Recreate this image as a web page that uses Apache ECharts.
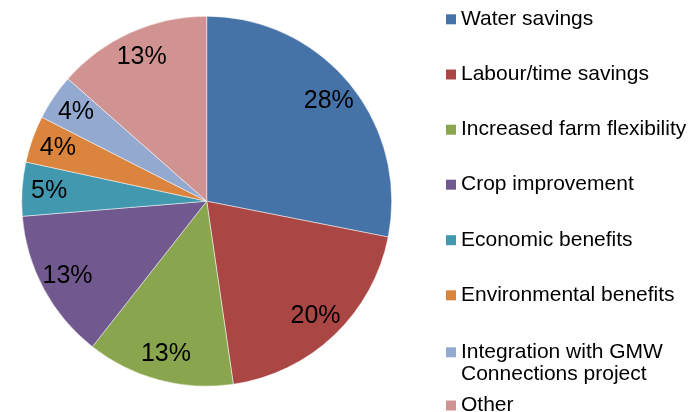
<!DOCTYPE html>
<html>
<head>
<meta charset="utf-8">
<script src="https://cdn.jsdelivr.net/npm/echarts@6/dist/echarts.min.js"></script>
<style>
html,body{margin:0;padding:0;background:#fff;}
#chart{width:698px;height:412px;}
</style>
</head>
<body>
<div id="chart"></div>
<script>
const categories = ['Water savings', 'Labour/time savings', 'Increased farm flexibility', 'Crop improvement', 'Economic benefits', 'Environmental benefits', 'Integration with GMW Connections project', 'Other'];
const legendLabels = ['Water savings', 'Labour/time savings', 'Increased farm flexibility', 'Crop improvement', 'Economic benefits', 'Environmental benefits', 'Integration with GMW', 'Other'];
const legendContinuation = 'Connections project';
const values = [28.1, 19.6, 12.9, 13.1, 4.7, 4.1, 4.0, 13.5];
const colors = ['#4572A7', '#AA4643', '#89A54E', '#71588F', '#4198AF', '#DB843D', '#93A9CF', '#D19392'];

const legendCenters = [19.3, 74.5, 129.7, 184.7, 240.2, 295.3, 352.3, 405.5];
const FONT = 'Liberation Sans, Arial, sans-serif';

const chart = echarts.init(document.getElementById('chart'), null, {renderer: 'canvas'});
const data = categories.map((n, i) => ({name: n, value: values[i], itemStyle: {color: colors[i]}}));

const legends = categories.map((n, i) => ({
  data: [n],
  left: 446,
  top: legendCenters[i] - 11,
  icon: 'rect',
  itemWidth: 10,
  itemHeight: 10,
  itemGap: 0,
  padding: 0,
  selectedMode: false,
  itemStyle: {borderWidth: 0},
  formatter: () => legendLabels[i],
  textStyle: {fontFamily: FONT, fontSize: 21, color: '#000', lineHeight: 22}
}));

chart.setOption({
  animation: false,
  legend: legends,
  graphic: [{
    type: 'text',
    left: 461,
    top: legendCenters[6] + 22 - 11,
    silent: true,
    style: {text: legendContinuation, font: '21px ' + FONT, fill: '#000', lineHeight: 22}
  }],
  series: [
    {
      type: 'pie',
      center: [206.7, 201.2],
      radius: [0, 185],
      startAngle: 90,
      clockwise: true,
      silent: true,
      percentPrecision: 0,
      label: {show: false},
      labelLine: {show: false},
      itemStyle: {borderColor: 'rgba(255,255,255,0.7)', borderWidth: 0.7},
      data: data
    },
    {
      type: 'pie',
      center: [206.7, 201.2],
      radius: [125, 185],
      startAngle: 90,
      clockwise: true,
      silent: true,
      percentPrecision: 0,
      label: {show: true, position: 'inside', formatter: '{d}%', fontFamily: FONT, fontSize: 25, color: '#000'},
      labelLine: {show: false},
      itemStyle: {color: 'rgba(0,0,0,0)', borderWidth: 0},
      data: categories.map((n, i) => ({name: n, value: values[i]}))
    }
  ]
});
</script>
</body>
</html>
